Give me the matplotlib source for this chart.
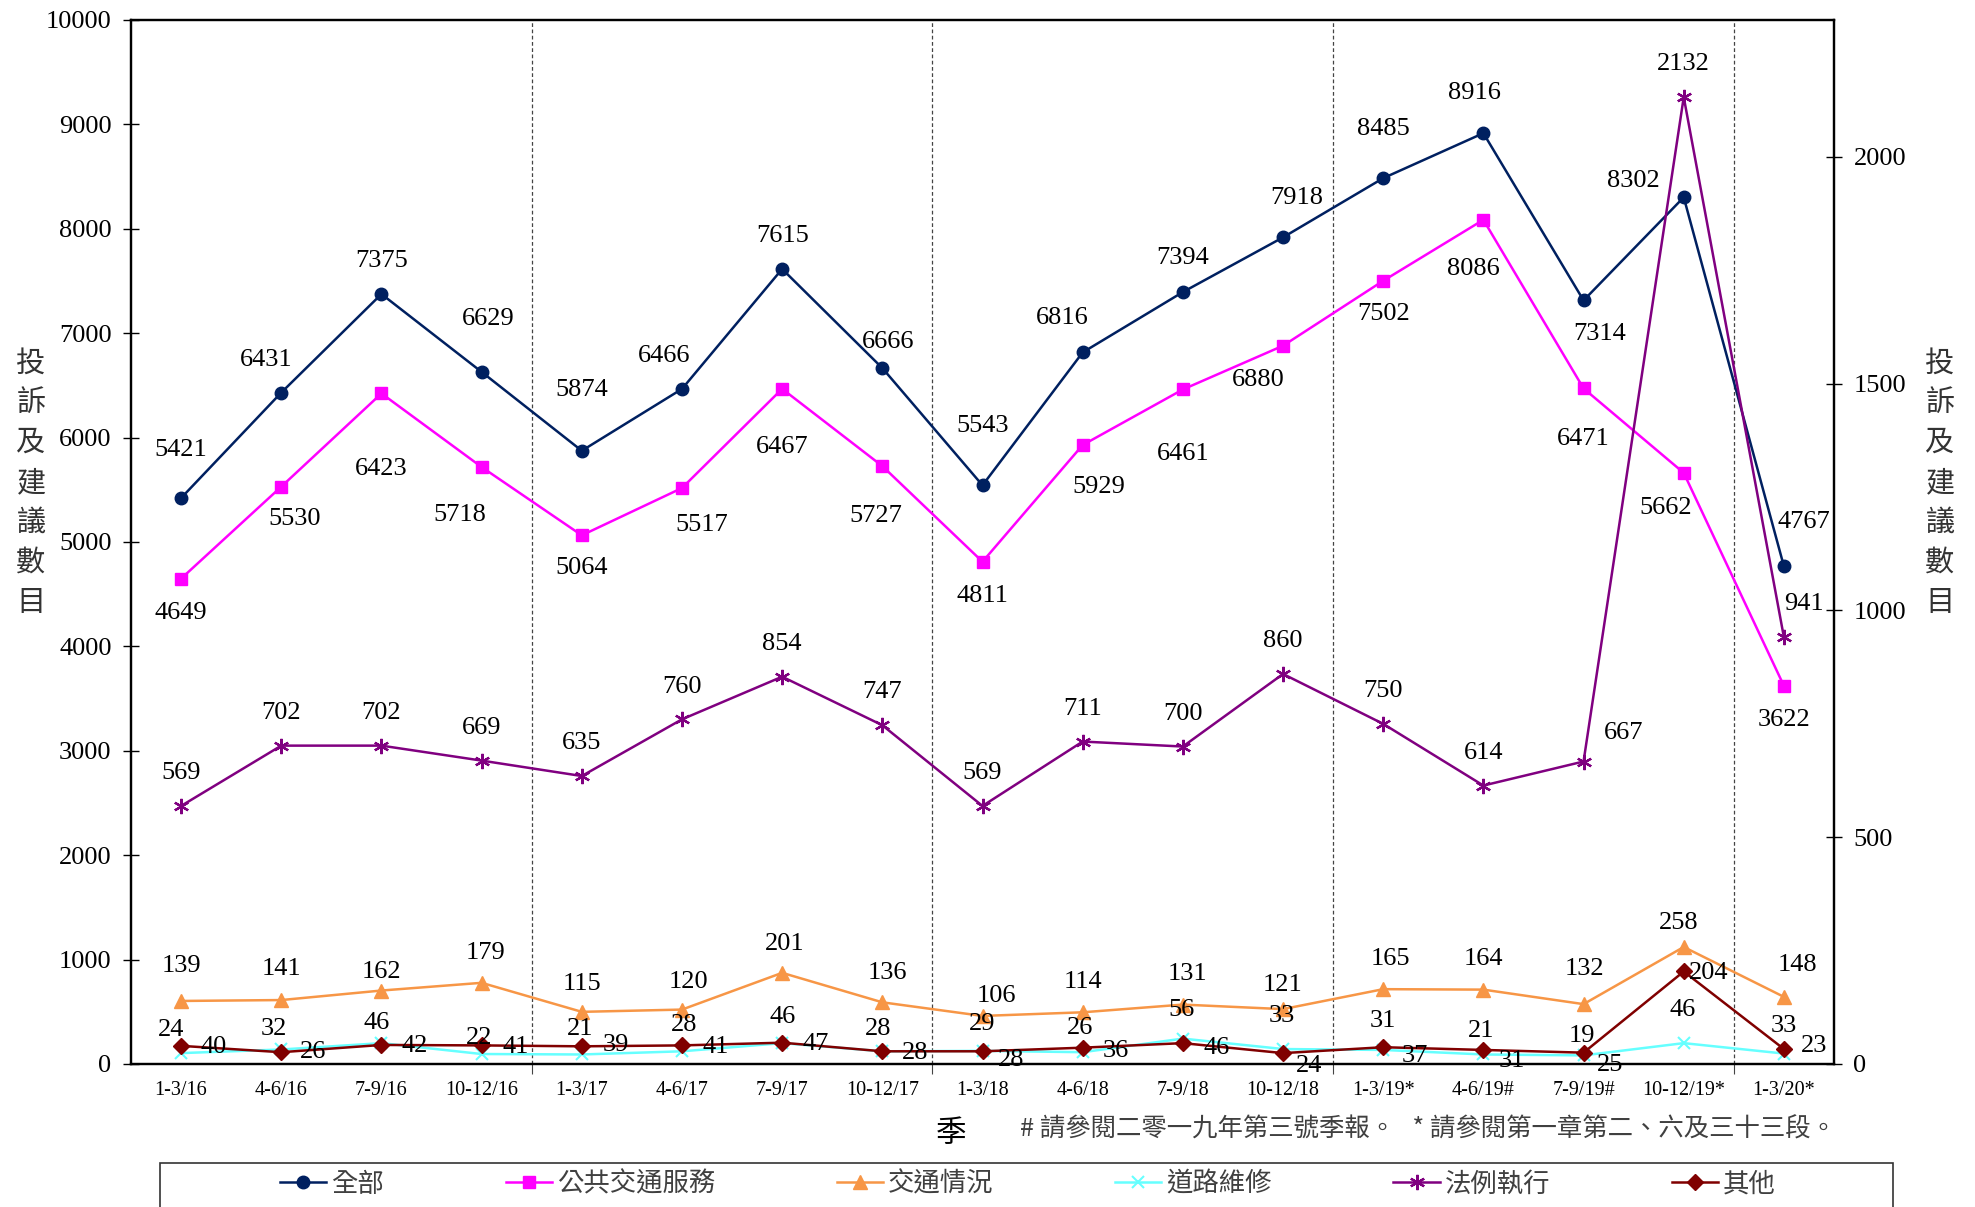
import matplotlib
matplotlib.use("Agg")
import matplotlib.pyplot as plt
from matplotlib.patches import Rectangle

plt.rcParams['font.family'] = ['Liberation Serif', 'Noto Sans CJK TC', 'DejaVu Sans']

quarters = ['1-3/16', '4-6/16', '7-9/16', '10-12/16', '1-3/17', '4-6/17', '7-9/17', '10-12/17',
            '1-3/18', '4-6/18', '7-9/18', '10-12/18', '1-3/19*', '4-6/19#', '7-9/19#', '10-12/19*', '1-3/20*']
total = [5421, 6431, 7375, 6629, 5874, 6466, 7615, 6666, 5543, 6816, 7394, 7918, 8485, 8916, 7314, 8302, 4767]
public_transport = [4649, 5530, 6423, 5718, 5064, 5517, 6467, 5727, 4811, 5929, 6461, 6880, 7502, 8086, 6471, 5662, 3622]
traffic = [139, 141, 162, 179, 115, 120, 201, 136, 106, 114, 131, 121, 165, 164, 132, 258, 148]
road = [24, 32, 46, 22, 21, 28, 46, 28, 29, 26, 56, 33, 31, 21, 19, 46, 23]
law = [569, 702, 702, 669, 635, 760, 854, 747, 569, 711, 700, 860, 750, 614, 667, 2132, 941]
others = [40, 26, 42, 41, 39, 41, 47, 28, 28, 36, 46, 24, 37, 31, 25, 204, 33]

names = ['全部', '公共交通服務', '交通情況', '道路維修', '法例執行', '其他']

# label offsets (roughly in points) for the data labels
off_total = [(0, 38), (-12, 26), (0, 26), (5, 42), (0, 48), (-14, 26), (0, 26), (5, 21), (0, 47),
             (-16, 27), (0, 27), (11, 31), (0, 39), (-7, 32), (13, -27), (-40, 13), (16, 35)]
off_public = [(0, -27), (11, -26), (0, -60), (-17, -38), (0, -26), (16, -29), (0, -46), (-5, -40), (0, -27),
              (13, -33), (0, -51), (-20, -27), (0, -26), (-8, -39), (0, -40), (-14, -28), (0, -27)]
off_traffic = [(0, 28), (0, 25), (0, 15), (3, 24), (0, 22), (5, 22), (2, 23), (4, 23), (11, 16), (0, 24),
               (4, 24), (0, 19), (6, 24), (0, 24), (1, 28), (-4, 19), (11, 25)]
off_road = [(-8, 18), (-6, 16), (-4, 16), (-2, 13), (-1, 20), (2, 21), (0, 21), (-3, 18), (0, 21), (-2, 19),
            (-1, 23), (-1, 26), (0, 23), (-2, 19), (-1, 15), (-1, 26), (24, 6)]
off_law = [(0, 26)] * 14 + [(32, 23), (0, 26), (16, 26)]
off_others = [(26, -1), (25, 0), (26, -1), (27, -1), (27, 1), (27, -1), (27, -1), (26, -1), (23, -7), (26, -3),
              (27, -4), (21, -10), (25, -7), (23, -9), (21, -10), (20, -1), (0, 18)]

fig = plt.figure(figsize=(19.75, 12.07), dpi=100)
ax = fig.add_axes([131 / 1975, 1 - 1064 / 1207, (1834 - 131) / 1975, (1064 - 20) / 1207])
ax2 = ax.twinx()

x = list(range(len(quarters)))
lw = 1.8

l1, = ax.plot(x, total, color='#002060', marker='o', ms=9, lw=lw)
l2, = ax.plot(x, public_transport, color='#FF00FF', marker='s', ms=9, lw=lw)
l3, = ax2.plot(x, traffic, color='#F79646', marker='^', ms=10, lw=lw)
l4, = ax2.plot(x, road, color='#66FFFF', marker='x', ms=9, mew=1.5, lw=lw)
l5, = ax2.plot(x, law, color='#800080', marker=(6, 2, 0), ms=11, mew=1.6, lw=lw)
l6, = ax2.plot(x, others, color='#800000', marker='D', ms=8, lw=lw)

k = 0.907
for axis, vals, offs in [(ax, total, off_total), (ax, public_transport, off_public),
                         (ax2, traffic, off_traffic), (ax2, road, off_road),
                         (ax2, law, off_law), (ax2, others, off_others)]:
    for i, v in enumerate(vals):
        dx, dy = offs[i]
        axis.annotate(str(v), (i, v), xytext=(dx * k, dy * k), textcoords='offset points',
                      ha='center', va='center', fontsize=19, color='black')

ax.set_xlim(-0.5, len(quarters) - 0.5)
ax.set_ylim(0, 10000)
ax2.set_ylim(0, 2302)
ax.set_yticks(range(0, 10001, 1000))
ax2.set_yticks([0, 500, 1000, 1500, 2000])
ax.set_xticks(x)
ax.set_xticklabels(quarters, fontsize=14.5)
ax.set_xticks([3.5, 7.5, 11.5, 15.5], minor=True)
ax.tick_params(axis='x', which='major', length=0, pad=12)
ax.tick_params(axis='x', which='minor', length=7, direction='out', color='#444444', width=0.8)
ax.tick_params(axis='y', direction='inout', length=12, width=1, labelsize=19, pad=8)
ax2.tick_params(axis='y', direction='inout', length=12, width=1, labelsize=19, pad=8)

for xv in [3.5, 7.5, 11.5, 15.5]:
    ax.axvline(xv, color='#444444', lw=0.9, linestyle=(0, (3, 2)), zorder=0)

for a in (ax, ax2):
    for s in a.spines.values():
        s.set_linewidth(1.6)

ylab = '\n'.join('投訴及建議數目')
fig.text(31 / 1975, 1 - 483 / 1207, ylab, fontsize=21, ha='center', va='center', linespacing=1.43,
         color='#333333', family=['Noto Sans CJK TC'])
fig.text(1940 / 1975, 1 - 483 / 1207, ylab, fontsize=21, ha='center', va='center', linespacing=1.43,
         color='#333333', family=['Noto Sans CJK TC'])

fig.text(951 / 1975, 1 - 1134 / 1207, '季', fontsize=22, ha='center', va='center',
         family=['Noto Sans CJK TC'])
fig.text(1020 / 1975, 1 - 1130 / 1207, '# 請參閱二零一九年第三號季報。   * 請參閱第一章第二、六及三十三段。',
         fontsize=18.3, ha='left', va='center', color='#404040',
         family=['Noto Sans CJK TC', 'DejaVu Sans'])

fig.patches.append(Rectangle((160 / 1975, -0.05), (1893 - 160) / 1975, 0.05 + 1 - 1163 / 1207,
                             transform=fig.transFigure, fill=False, edgecolor='#333333', lw=1.2))
leg = fig.legend([l1, l2, l3, l4, l5, l6], names, loc='center', bbox_to_anchor=(1028 / 1975, 1 - 1184 / 1207),
                 ncol=6, frameon=False, handlelength=1.75, handletextpad=0.2,
                 columnspacing=4.6, borderpad=0, prop={'family': ['Noto Sans CJK TC'], 'size': 19})
for t in leg.get_texts():
    t.set_color('#404040')

fig.savefig('out.png', dpi=100)
